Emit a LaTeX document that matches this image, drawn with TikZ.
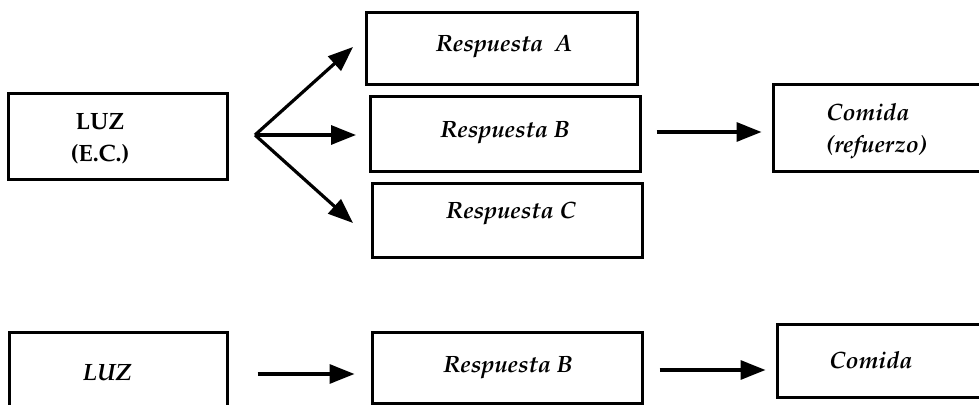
\documentclass[tikz,border=0pt]{standalone}
\usepackage[T1]{fontenc}
\usepackage{mathpazo}
\usetikzlibrary{arrows.meta,fit}
\begin{document}
\begin{tikzpicture}[x=0.5pt,y=-0.5pt,
  box/.style={draw, line width=1.5pt, inner sep=0pt},
  lbl/.style={inner sep=0pt, font=\fontsize{11.8}{16}\selectfont\bfseries\itshape},
  lblup/.style={inner sep=0pt, font=\fontsize{11.8}{16}\selectfont\bfseries},
  arr/.style={line width=1.6pt, -{Triangle[length=12.5pt,width=9.5pt]}}]
\clip (0,0) rectangle (979,405);
\fill[white] (0,0) rectangle (979,405);
% top row
\node[box, fit={(8,94) (227,180)}] (luz1) {};
\node[box, fit={(366,13) (637,85)}] (ra) {};
\node[box, fit={(370,97) (640,172)}] (rb) {};
\node[box, fit={(372,184) (642,258)}] (rc) {};
\node[box, fit={(773,85) (1000,172)}] (com1) {};
\node[lblup, align=center] (tluz1) at (100,139) {LUZ\\(E.C.)};
\node[lbl] (tra) at (504,47) {Respuesta\ \ A};
\node[lbl] (trb) at (505,133) {Respuesta B};
\node[lbl] (trc) at (511,213) {Respuesta C};
\node[lbl, align=left, anchor=west] (tcom1) at (826,131) {Comida\\(refuerzo)};
\coordinate (fork) at (255,135);
\coordinate (tipa) at (353,47);
\coordinate (tipb) at (356,135);
\coordinate (tipc) at (353,223);
\draw[arr] (fork) -- (tipa);
\draw[arr] (fork) -- (tipb);
\draw[arr] (fork) -- (tipc);
\draw[arr, shorten <=7.5pt, shorten >=5pt] (rb.east |- 0,132) -- (com1.west |- 0,132);
% bottom row
\node[box, fit={(9,333) (227,425)}] (luz2) {};
\node[box, fit={(372,333) (642,403)}] (rb2) {};
\node[box, fit={(777,325) (1000,397)}] (com2) {};
\node[lbl] (tluz2) at (107,373) {LUZ};
\node[lbl] (trb2) at (508,368) {Respuesta B};
\node[lbl] (tcom2) at (871,360) {Comida};
\draw[arr, shorten <=14.5pt, shorten >=8pt] (luz2.east |- 0,374) -- (rb2.west |- 0,374);
\draw[arr, shorten <=8pt, shorten >=5pt] (rb2.east |- 0,370) -- (com2.west |- 0,370);
\end{tikzpicture}
\end{document}
